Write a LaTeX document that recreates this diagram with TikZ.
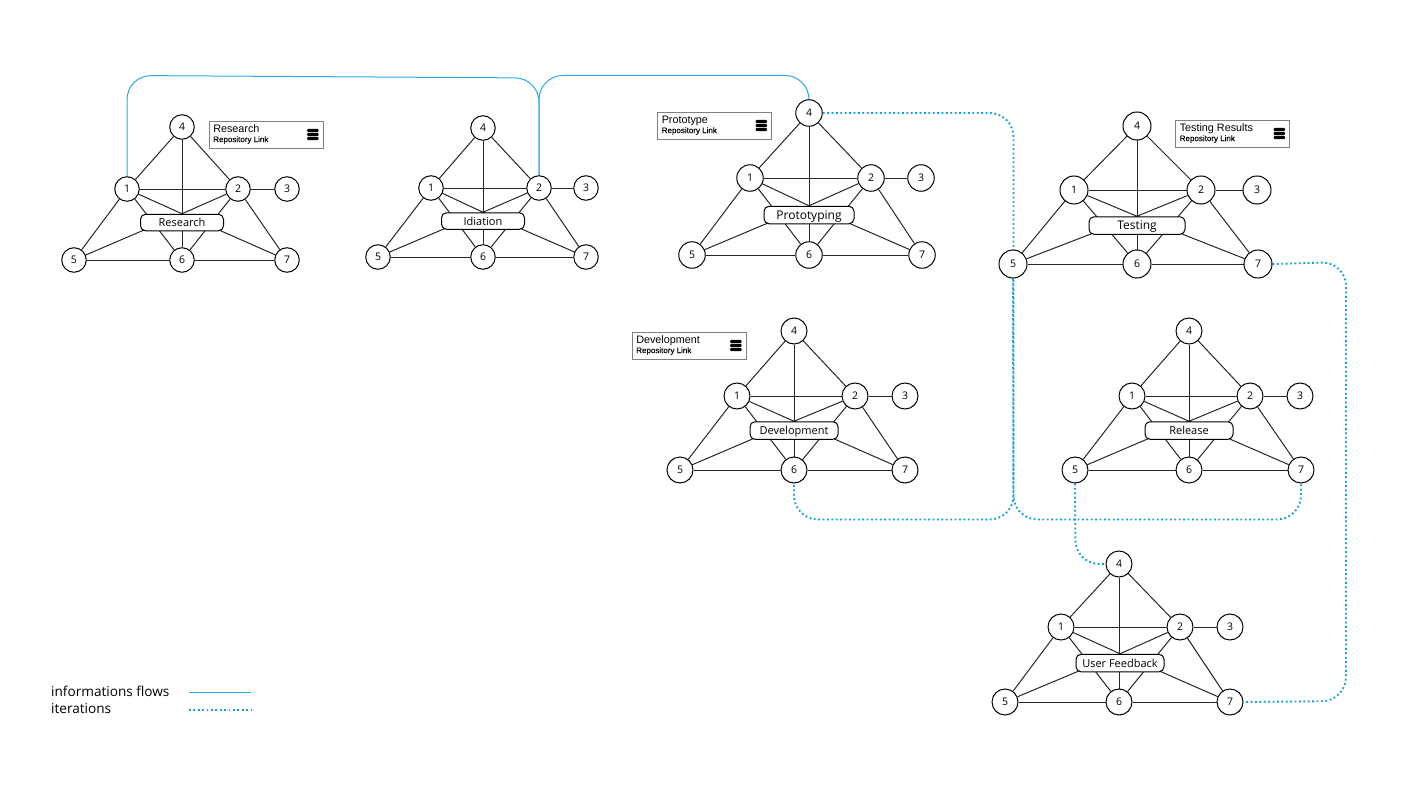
\documentclass[tikz,border=0pt]{standalone}
\usepackage{fontspec}
\setmainfont{Open Sans}
\newfontfamily\boxfont{Liberation Sans}
\newfontfamily\boxsubfont[FakeBold=0.35]{Liberation Sans}
\usetikzlibrary{backgrounds}
\definecolor{flowblue}{HTML}{29ABE2}
\definecolor{iterblue}{HTML}{0FA0DE}
\tikzset{
  gnode/.style={circle,draw=black,fill=white,line width=1pt,inner sep=0pt,font=\fontsize{10.5}{12}\selectfont},
  glabel/.style={draw=black,fill=white,line width=1pt,rounded corners=5pt,inner sep=0pt,text height=8pt,text depth=0pt,font=\fontsize{11}{13}\selectfont},
  gedge/.style={line width=1pt,draw=black!85},
  infobox/.style={draw=black!50,fill=white,line width=0.9pt,minimum width=114pt,minimum height=27pt,inner sep=0pt},
  infotitle/.style={anchor=base west,inner sep=0pt,font=\boxfont\fontsize{10.8}{12}\selectfont},
  infosub/.style={anchor=base west,inner sep=0pt,font=\boxsubfont\fontsize{8}{10}\selectfont,text=black},
  flow/.style={draw=flowblue,line width=1pt,rounded corners=24pt},
  iter/.style={draw=iterblue,line width=1.9pt,dash pattern=on 1.8pt off 2.6pt,rounded corners=24pt},
  legendtext/.style={anchor=west,inner sep=0pt,font=\fontsize{13.6}{16}\selectfont}
}
% name, seven node positions, node size
\newcommand\triad[9]{%
  \node[gnode,minimum size=#9] (#1n1) at (#2) {1};
  \node[gnode,minimum size=#9] (#1n2) at (#3) {2};
  \node[gnode,minimum size=#9] (#1n3) at (#4) {3};
  \node[gnode,minimum size=#9] (#1n4) at (#5) {4};
  \node[gnode,minimum size=#9] (#1n5) at (#6) {5};
  \node[gnode,minimum size=#9] (#1n6) at (#7) {6};
  \node[gnode,minimum size=#9] (#1n7) at (#8) {7};
}
% name, position, width, height, text
\newcommand\triadlabel[5]{%
  \node[glabel,minimum width=#3,minimum height=#4] (#1lab) at (#2) {#5};
  \begin{pgfonlayer}{background}
    \draw[gedge] (#1n4) -- (#1n1);
    \draw[gedge] (#1n4) -- (#1n2);
    \draw[gedge] (#1n4) -- (#1n6);
    \draw[gedge] (#1n1) -- (#1n2);
    \draw[gedge] (#1n2) -- (#1n3);
    \draw[gedge] (#1n1) -- (#1n5);
    \draw[gedge] (#1n2) -- (#1n7);
    \draw[gedge] (#1n5) -- (#1n6);
    \draw[gedge] (#1n6) -- (#1n7);
    \draw[gedge] (#1n1) -- (#1n6);
    \draw[gedge] (#1n2) -- (#1n6);
    \draw[gedge] (#1n1) -- (#1lab.north);
    \draw[gedge] (#1n2) -- (#1lab.north);
    \draw[gedge] (#1n5) -- (#1lab.north);
    \draw[gedge] (#1n7) -- (#1lab.north);
  \end{pgfonlayer}
}
% name, box centre, title
\newcommand\infobox[3]{%
  \node[infobox] (#1) at (#2) {};
  \node[infotitle] (#1t) at ([xshift=4.5pt,yshift=2pt]#1.west) {#3};
  \node[infosub] (#1s) at ([xshift=4.5pt,yshift=-7.6pt]#1.west) {Repository Link};
  \foreach \dy in {-4,0,4}{
    \fill[black,rounded corners=1.2pt] ([xshift=98.5pt,yshift=\dy pt-1.7pt]#1.west) rectangle ++(11.5pt,3.4pt);
  }
}
\begin{document}
\begin{tikzpicture}[x=1pt,y=-1pt]
\useasboundingbox (0,0) rectangle (1411,797);

\triad{a}{127,189}{238,189}{287,189}{182,127}{74,260}{182,260}{287,260}{24.5pt}
\triadlabel{a}{182,222.5}{83pt}{16.5pt}{Research}
\triad{b}{431,188}{539,188}{586,188}{483,128}{378,257}{483,257}{586,257}{24.5pt}
\triadlabel{b}{483,221}{83pt}{16.5pt}{Idiation}
\triad{c}{750,178}{871,178}{921,178}{809,113}{692,255}{809,255}{922,255}{26.5pt}
\triadlabel{c}{809,215}{90pt}{17.5pt}{\fontsize{12}{14}\selectfont Prototyping}
\triad{d}{1074,190}{1201,190}{1257,190}{1137,126}{1013,264}{1137,264}{1258,264}{28pt}
\triadlabel{d}{1137,225.5}{96pt}{17.5pt}{\fontsize{12}{14}\selectfont Testing}
\triad{e}{737,396}{855,396}{905,396}{794,331}{680,470}{794,470}{905,470}{26pt}
\triadlabel{e}{794,430.5}{88pt}{17.5pt}{Development}
\triad{f}{1132,396}{1250,396}{1300,396}{1189,331}{1075,470}{1189,470}{1301,470}{26pt}
\triadlabel{f}{1189,430.5}{88pt}{17.5pt}{Release}
\triad{g}{1061,627}{1180,627}{1230,627}{1119,564}{1005,702}{1119,702}{1230,702}{26pt}
\triadlabel{g}{1120,663}{88pt}{17.5pt}{User Feedback}

\infobox{ia}{266,134.5}{Research}
\infobox{ic}{714.5,125.5}{Prototype}
\infobox{id}{1232.5,133.5}{Testing Results}
\infobox{ie}{689,345.5}{Development}

\begin{pgfonlayer}{background}
  \draw[flow] (an1.north) -- (127,75.5) -- (539,78) -- (bn2.north);
  \draw[flow] (bn2.north) -- (539,75.5) -- (809,75.5) -- (cn4.north);
  \draw[iter] (cn4.east) -- (1013.5,113) -- (1013.5,519.5) -- (794,519.5) -- (en6.south);
  \draw[iter] (dn5.south) -- (1013.5,519.5) -- (1301,519.5) -- (fn7.south);
  \draw[iter] (fn5.south) -- (1075.5,564) -- (gn4.west);
  \draw[iter] (dn7.east) -- (1346,262) -- (1346,701) -- (gn7.east);
\end{pgfonlayer}

\node[legendtext] (l1) at (51,691) {informations flows};
\node[legendtext] (l2) at (51,709) {iterations};
\coordinate (l1a) at (189,692.5);
\coordinate (l1b) at (251,692.5);
\coordinate (l2a) at (189,710);
\coordinate (l2b) at (251,710);
\draw[flow] (l1a) -- (l1b);
\draw[iter] (l2a) -- (l2b);
\end{tikzpicture}
\end{document}
